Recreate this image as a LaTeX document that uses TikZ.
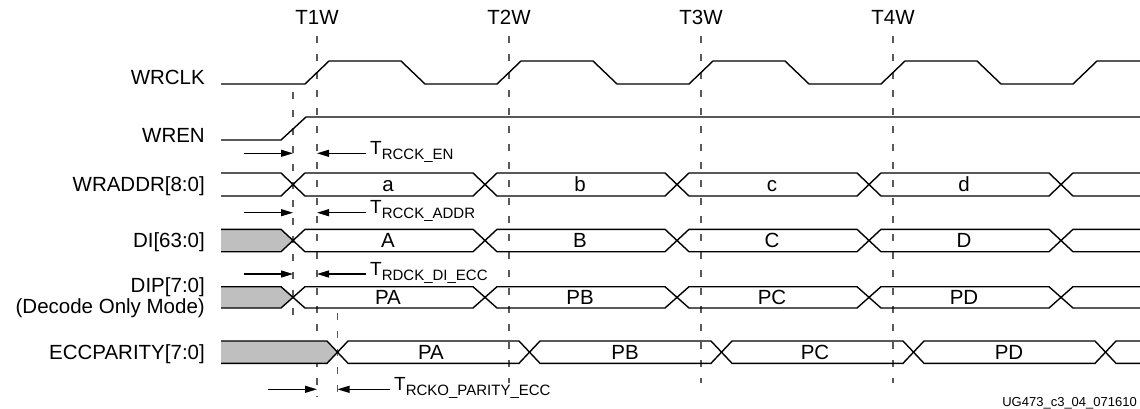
\documentclass[tikz,border=0pt]{standalone}
\usepackage{fontspec}
\setmainfont{Liberation Sans}
\usetikzlibrary{arrows.meta}
\newcommand\lblfont{\fontsize{20.5}{20.6}\selectfont}
\newcommand\subfont{\fontsize{15}{15}\selectfont}
\newcommand\drawbus[4]{% #1 top, #2 bottom, #3 first crossing, #4 half width
  \pgfmathsetmacro\busmid{(#1+#2)/2}
  \foreach \k in {0,...,3}{
    \draw[sig] ({#3+192*\k},\busmid) -- ({#3+192*\k+#4},#1) -- ({#3+192*(\k+1)-#4},#1)
      -- ({#3+192*(\k+1)},\busmid) -- ({#3+192*(\k+1)-#4},#2) -- ({#3+192*\k+#4},#2) -- cycle;
  }
  \draw[sig] (1140,#1) -- ({#3+768+#4},#1) -- ({#3+768},\busmid) -- ({#3+768+#4},#2) -- (1140,#2);
}
\tikzset{
  sig/.style={line width=1.4pt, line join=miter},
  dashline/.style={line width=1.4pt, black!65, dash pattern=on 7pt off 11pt},
  tarrow/.style={line width=1.2pt, -{Triangle[length=12pt,width=7pt]}},
  lbl/.style={inner sep=0pt, font=\lblfont},
  tlbl/.style={inner sep=0pt, font=\fontsize{19}{19}\selectfont, anchor=base west},
  invalid/.style={sig, fill=black!25},
}
\begin{document}
\begin{tikzpicture}[x=1pt,y=-1pt]
\useasboundingbox (0,0) rectangle (1140,408);

% ---- vertical dashed reference lines
\coordinate (d0top) at (293,92);   \coordinate (d0bot) at (293,325);
\coordinate (t1top) at (317,36);   \coordinate (t1bot) at (317,397);
\coordinate (d2top) at (337.5,313);\coordinate (d2bot) at (337.5,397);
\coordinate (t2top) at (509,36);   \coordinate (t2bot) at (509,383);
\coordinate (t3top) at (701,36);   \coordinate (t3bot) at (701,383);
\coordinate (t4top) at (893,36);   \coordinate (t4bot) at (893,383);
\draw[dashline] (d0top) -- (d0bot);
\draw[dashline] (t1top) -- (t1bot);
\draw[dashline] (d2top) -- (d2bot);
\draw[dashline] (t2top) -- (t2bot);
\draw[dashline] (t3top) -- (t3bot);
\draw[dashline] (t4top) -- (t4bot);

% ---- top labels
\node[lbl, anchor=base] (T1W) at (317,24) {T1W};
\node[lbl, anchor=base] (T2W) at (509,24) {T2W};
\node[lbl, anchor=base] (T3W) at (701,24) {T3W};
\node[lbl, anchor=base] (T4W) at (893,24) {T4W};

% ---- signal names
\node[lbl, anchor=base east] (nclk)  at (205,84)    {WRCLK};
\node[lbl, anchor=base east] (nen)   at (205,142)   {WREN};
\node[lbl, anchor=base east] (naddr) at (205,191.8) {WRADDR[8:0]};
\node[lbl, anchor=base east] (ndi)   at (205,247.8) {DI[63:0]};
\node[lbl, anchor=base east] (ndip)  at (205,292.3) {DIP[7:0]};
\node[lbl, anchor=base east] (ndom)  at (205,313.5) {(Decode Only Mode)};
\node[lbl, anchor=base east] (necc)  at (205,359.4) {ECCPARITY[7:0]};

% ---- WRCLK
\draw[sig] (221,84) \foreach \k in {0,...,3}{
   -- ({305+192*\k},84) -- ({329+192*\k},61) -- ({401+192*\k},61) -- ({425+192*\k},84) }
   -- (1073,84) -- (1097,61) -- (1140,61);

% ---- WREN
\draw[sig] (221,140) -- (281,140) -- (306,117) -- (1140,117);

% ---- WRADDR
\draw[sig] (221,173) -- (281,173) -- (293,184.5) -- (281,196) -- (221,196);
\drawbus{173}{196}{293}{12}
\node[lbl, anchor=base] (va) at (388,191.8) {a};
\node[lbl, anchor=base] (vb) at (580,191.8) {b};
\node[lbl, anchor=base] (vc) at (772,191.8) {c};
\node[lbl, anchor=base] (vd) at (964,191.8) {d};

% ---- DI
\filldraw[invalid] (221,229.3) -- (281,229.3) -- (293,240.5) -- (281,251.7) -- (221,251.7);
\drawbus{229.3}{251.7}{293}{12}
\node[lbl, anchor=base] (vA) at (388,247.8) {A};
\node[lbl, anchor=base] (vB) at (580,247.8) {B};
\node[lbl, anchor=base] (vC) at (772,247.8) {C};
\node[lbl, anchor=base] (vD) at (964,247.8) {D};

% ---- DIP
\filldraw[invalid] (221,286.7) -- (281,286.7) -- (293,297.35) -- (281,308) -- (221,308);
\drawbus{286.7}{308}{293}{12}
\node[lbl, anchor=base] (vPA) at (388,304.4) {PA};
\node[lbl, anchor=base] (vPB) at (580,304.4) {PB};
\node[lbl, anchor=base] (vPC) at (772,304.4) {PC};
\node[lbl, anchor=base] (vPD) at (964,304.4) {PD};

% ---- ECCPARITY
\filldraw[invalid] (221,341) -- (327,341) -- (337.5,352.15) -- (327,363.3) -- (221,363.3);
\drawbus{341}{363.3}{337.5}{10.5}
\node[lbl, anchor=base] (ePA) at (431,359.4) {PA};
\node[lbl, anchor=base] (ePB) at (625,359.4) {PB};
\node[lbl, anchor=base] (ePC) at (815,359.4) {PC};
\node[lbl, anchor=base] (ePD) at (1009,359.4) {PD};

% ---- timing arrows
\coordinate (enL) at (244,153.3);   \coordinate (enR) at (366,153.3);
\coordinate (adL) at (244,212.7);   \coordinate (adR) at (366,212.7);
\coordinate (diL) at (244,274);     \coordinate (diR) at (366,274);
\coordinate (paL) at (268,389.3);   \coordinate (paR) at (390,389.3);
\draw[tarrow] (enL) -- (enL -| d0top);
\draw[tarrow] (enR) -- (enR -| t1top);
\draw[tarrow] (adL) -- (adL -| d0top);
\draw[tarrow] (adR) -- (adR -| t1top);
\draw[tarrow] (diL) -- (diL -| d0top);
\draw[tarrow] (diR) -- (diR -| t1top);
\draw[tarrow] (paL) -- (paL -| t1top);
\draw[tarrow] (paR) -- (paR -| d2top);

\node[tlbl] (lEN)   at (370,154.3) {T\raisebox{-5pt}{\subfont RCCK\_EN}};
\node[tlbl] (lADDR) at (370,213.7) {T\raisebox{-5pt}{\subfont RCCK\_ADDR}};
\node[tlbl] (lDI)   at (370,275)   {T\raisebox{-5pt}{\subfont RDCK\_DI\_ECC}};
\node[tlbl] (lPAR)  at (394,390.3) {T\raisebox{-5pt}{\subfont RCKO\_PARITY\_ECC}};

% ---- figure id
\node[inner sep=0pt, anchor=base east, font=\fontsize{13}{13}\selectfont] (figid) at (1137,406.3) {UG473\_c3\_04\_071610};
\end{tikzpicture}
\end{document}
